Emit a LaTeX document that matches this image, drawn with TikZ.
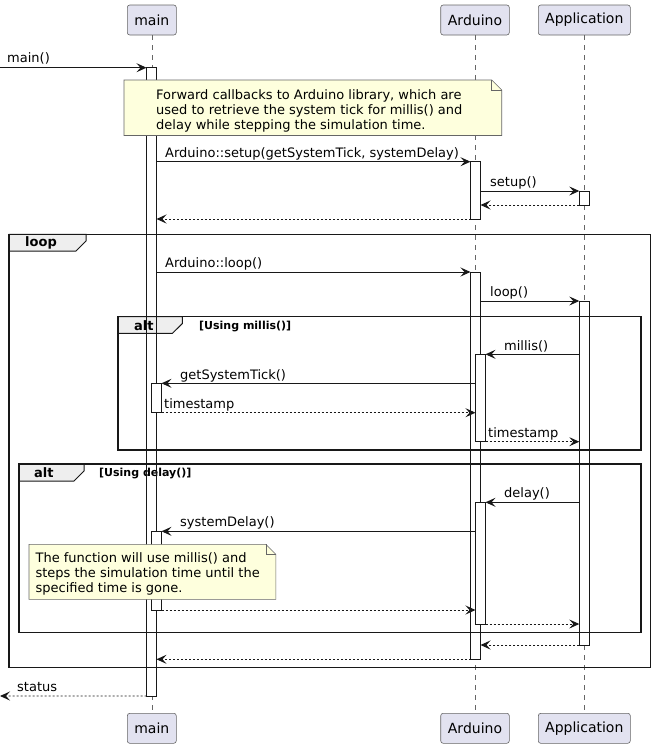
\documentclass[tikz,border=0pt]{standalone}
\usepackage{fontspec}
\setmainfont{DejaVu Sans}
\usetikzlibrary{arrows.meta}
\definecolor{partfill}{HTML}{E2E2F0}
\definecolor{notefill}{HTML}{FEFFDD}
\definecolor{tabfill}{HTML}{EEEEEE}
\definecolor{ink}{HTML}{181818}
\begin{document}
\begin{tikzpicture}[x=1pt,y=-1pt,
  part/.style={draw=black!60, line width=0.6pt, fill=partfill, rounded corners=2.5pt,
    minimum width=#1, minimum height=30pt, inner sep=0pt, outer sep=0pt,
    font=\fontsize{14}{16}\selectfont},
  lifeline/.style={draw=black!60, line width=0.6pt, dash pattern=on 5pt off 5pt},
  actbox/.style={fill=white, minimum width=10pt,
    minimum height=#1, inner sep=0pt, outer sep=0pt, anchor=north},
  actline/.style={draw=ink, line width=0.9pt},
  msg/.style={draw=ink, line width=0.9pt, -{Stealth[length=10pt,width=9pt,inset=4pt]}},
  ret/.style={msg, dash pattern=on 2pt off 2pt},
  lbl/.style={font=\fontsize{13}{15}\selectfont, inner sep=0pt, anchor=base west, text=black},
  notebox/.style={draw=black!60, line width=0.6pt, fill=notefill},
  tab/.style={draw=ink, line width=1pt, fill=tabfill},
  frm/.style={draw=ink, line width=1.5pt},
  tablbl/.style={font=\bfseries\fontsize{13}{15}\selectfont, inner sep=0pt, anchor=base west},
  guard/.style={font=\bfseries\fontsize{11}{13}\selectfont, inner sep=0pt, anchor=base west},
]
\useasboundingbox (0,0) rectangle (665,750);
\fill[white] (0,0) rectangle (665,750);

% participants
\node[part=49pt]   (mainT) at (151.8,20) {main};
\node[part=68.6pt] (ardT)  at (475,20)   {Arduino};
\node[part=92pt]   (appT)  at (584.3,20) {Application};
\node[part=49pt]   (mainB) at (151.8,728.3) {main};
\node[part=68.6pt] (ardB)  at (475,728.3)   {Arduino};
\node[part=92pt]   (appB)  at (584.3,728.3) {Application};

% lifelines
\draw[lifeline] (mainT.south) -- (mainB.north);
\draw[lifeline] (ardT.south) -- (ardB.north);
\draw[lifeline] (appT.south) -- (appB.north);

% outer activation fills
\node[actbox=628.3pt] (mainA)  at (151.5,67.7) {};
\node[actbox=57.3pt]  (ardA1)  at (475.5,161.7) {};
\node[actbox=14pt]    (appA1)  at (584.3,191) {};
\node[actbox=387.3pt] (ardA2)  at (475.5,272) {};
\node[actbox=344pt]   (appA2)  at (584.3,301) {};

% frame tabs and labels
\draw[tab] (9,234.3) -- (86,234.3) -- (86,241) -- (76,251) -- (9,251) -- cycle;
\node[tablbl] (loopL) at (25,246.5) {loop};
\draw[tab] (118,316.7) -- (182.4,316.7) -- (182.4,323.5) -- (172.4,333.3) -- (118,333.3) -- cycle;
\node[tablbl] (alt1L) at (134,330.5) {alt};
\node[guard] (alt1G) at (199,329.5) {[Using millis()]};
\draw[tab] (19.2,464) -- (84,464) -- (84,471) -- (74,481) -- (19.2,481) -- cycle;
\node[tablbl] (alt2L) at (34,477) {alt};
\node[guard] (alt2G) at (99,476) {[Using delay()]};

% outer activation outlines
\foreach \a in {mainA,ardA1,appA1,ardA2,appA2}
  \draw[actline] (\a.north west) rectangle (\a.south east);

% nested activations
\node[actbox=87.4pt]  (ardA3)  at (480.5,354.3) {};
\node[actbox=29.4pt]  (mainA2) at (156.5,383.3) {};
\node[actbox=121.7pt] (ardA4)  at (480.5,502.3) {};
\node[actbox=78.7pt]  (mainA3) at (156.5,531.3) {};
\foreach \a in {ardA3,mainA2,ardA4,mainA3}
  \draw[actline] (\a.north west) rectangle (\a.south east);

% frames
\draw[frm] (9,234.3) rectangle (650.7,667.5);
\draw[frm] (118,316.7) rectangle (641,450);
\draw[frm] (19.2,464) rectangle (641,632.3);

% messages
\coordinate (mainIn) at (0,67.7);
\coordinate (statusOut) at (0,696);
\draw[msg] (mainIn) -- (mainA.north west);
\node[lbl] (l1) at (7,62.8) {main()};

\draw[msg] (mainA.east |- ardA1.north) -- (ardA1.north west);
\node[lbl] (l2) at (165,157.3) {Arduino::setup(getSystemTick, systemDelay)};
\draw[msg] (ardA1.east |- appA1.north) -- (appA1.north west);
\node[lbl] (l3) at (490,186) {setup()};
\draw[ret] (appA1.south west) -- (ardA1.east |- appA1.south);
\draw[ret] (ardA1.south west) -- (mainA.east |- ardA1.south);

\draw[msg] (mainA.east |- ardA2.north) -- (ardA2.north west);
\node[lbl] (l4) at (165,267.8) {Arduino::loop()};
\draw[msg] (ardA2.east |- appA2.north) -- (appA2.north west);
\node[lbl] (l5) at (490,296.8) {loop()};

\draw[msg] (appA2.west |- ardA3.north) -- (ardA3.north east);
\node[lbl] (l6) at (504,350.5) {millis()};
\draw[msg] (ardA3.west |- mainA2.north) -- (mainA2.north east);
\node[lbl] (l7) at (180,379.5) {getSystemTick()};
\draw[ret] (mainA2.south east) -- (ardA3.west |- mainA2.south);
\node[lbl] (l8) at (164,408) {timestamp};
\draw[ret] (ardA3.south east) -- (appA2.west |- ardA3.south);
\node[lbl] (l9) at (488,437) {timestamp};

\draw[msg] (appA2.west |- ardA4.north) -- (ardA4.north east);
\node[lbl] (l10) at (504,497) {delay()};
\draw[msg] (ardA4.west |- mainA3.north) -- (mainA3.north east);
\node[lbl] (l11) at (180,526) {systemDelay()};
\draw[ret] (mainA3.south east) -- (ardA4.west |- mainA3.south);
\draw[ret] (ardA4.south east) -- (appA2.west |- ardA4.south);
\draw[ret] (appA2.south west) -- (ardA2.east |- appA2.south);
\draw[ret] (ardA2.south west) -- (mainA.east |- ardA2.south);

\draw[ret] (mainA.south west) -- (statusOut);
\node[lbl] (l12) at (17,691) {status};

% notes
\draw[notebox] (124,80) -- (491.7,80) -- (501.7,90) -- (501.7,135.5) -- (124,135.5) -- cycle;
\draw[draw=black!60, line width=0.6pt] (491.7,80) -- (491.7,90) -- (501.7,90);
\node[lbl] (n1a) at (156,99) {Forward callbacks to Arduino library, which are};
\node[lbl] (n1b) at (156,114) {used to retrieve the system tick for millis() and};
\node[lbl] (n1c) at (156,129) {delay while stepping the simulation time.};

\draw[notebox] (29,544.3) -- (265.8,544.3) -- (275.8,554.3) -- (275.8,599.3) -- (29,599.3) -- cycle;
\draw[draw=black!60, line width=0.6pt] (265.8,544.3) -- (265.8,554.3) -- (275.8,554.3);
\node[lbl] (n2a) at (35.4,562) {The function will use millis() and};
\node[lbl] (n2b) at (35.4,577) {steps the simulation time until the};
\node[lbl] (n2c) at (35.4,592) {specified time is gone.};
\end{tikzpicture}
\end{document}
